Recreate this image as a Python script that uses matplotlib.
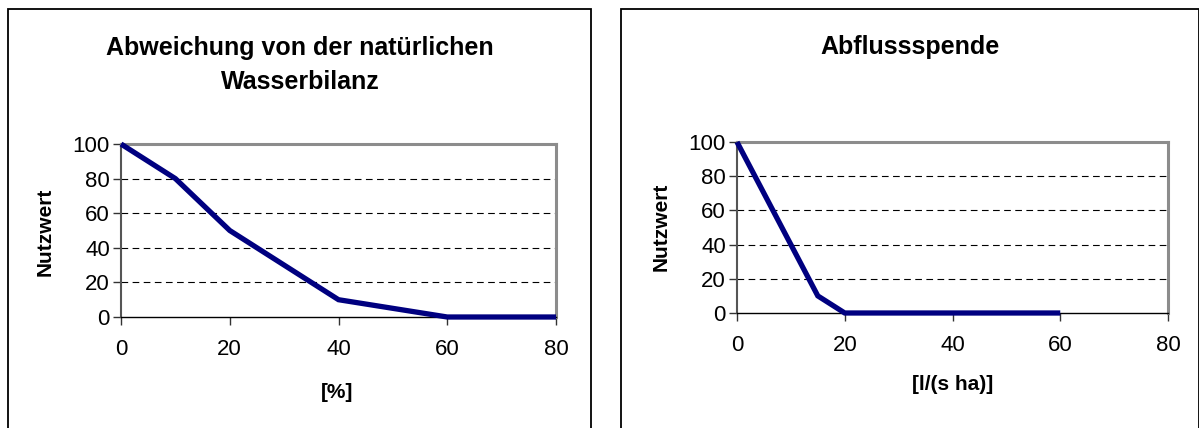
import matplotlib
matplotlib.use("Agg")
import matplotlib.pyplot as plt
from matplotlib.patches import Rectangle

plt.rcParams["font.family"] = ["Liberation Sans", "DejaVu Sans"]

# data
x_bilanz = [0, 10, 20, 40, 60, 80]
y_bilanz = [100, 80, 50, 10, 0, 0]

x_abfluss = [0, 15, 20, 60]
y_abfluss = [100, 10, 0, 0]

titles = ["Abweichung von der natürlichen\nWasserbilanz", "Abflussspende"]
xlabels = ["[%]", "[l/(s ha)]"]
ylabel = "Nutzwert"
xticks = [0, 20, 40, 60, 80]
yticks = [0, 20, 40, 60, 80, 100]

W, H = 1199, 428
fig = plt.figure(figsize=(W / 100, H / 100), dpi=100)


def fx(px):
    return px / W


def fy(py):
    return 1 - py / H


# panel boxes
for x0, x1 in [(8, 591), (621, 1199)]:
    fig.add_artist(Rectangle((fx(x0), fy(440)), fx(x1 - x0), (440 - 9) / H,
                             transform=fig.transFigure, fill=False,
                             edgecolor="black", linewidth=1.3))

# axes rects in pixels: left, right, top, bottom
rects = [(121, 556, 144, 317), (737, 1168, 142, 313)]
series = [(x_bilanz, y_bilanz), (x_abfluss, y_abfluss)]

for i, ((l, r, t, b), (xs, ys)) in enumerate(zip(rects, series)):
    ax = fig.add_axes([fx(l), fy(b), fx(r - l), (b - t) / H])
    ax.plot(xs, ys, color="#000080", linewidth=3.8, clip_on=False,
            solid_joinstyle="miter", solid_capstyle="butt", zorder=3)
    ax.set_xlim(0, 80)
    ax.set_ylim(0, 100)
    ax.set_xticks(xticks)
    ax.set_yticks(yticks)
    for yv in yticks[1:-1]:
        ax.axhline(yv, color="black", linewidth=0.8, dashes=(6, 4), zorder=1)
    ax.spines["top"].set_color("#8c8c8c")
    ax.spines["right"].set_color("#8c8c8c")
    ax.spines["top"].set_linewidth(2.2)
    ax.spines["right"].set_linewidth(2.2)
    ax.spines["left"].set_color("#555555")
    ax.spines["left"].set_linewidth(1.5)
    ax.spines["bottom"].set_color("black")
    ax.spines["bottom"].set_linewidth(1.0)
    ax.tick_params(axis="both", direction="out", length=6, width=1,
                   color="#333333", labelsize=16)
    ax.tick_params(axis="x", pad=10)
    ax.tick_params(axis="y", pad=2)

# titles and labels
fig.text(fx(300), fy(65), titles[0], ha="center", va="center",
         fontsize=18, fontweight="bold", linespacing=1.55)
fig.text(fx(910), fy(47), titles[1], ha="center", va="center",
         fontsize=18, fontweight="bold")

fig.text(fx(337), fy(393), xlabels[0], ha="center", va="center",
         fontsize=15, fontweight="bold")
fig.text(fx(953), fy(384), xlabels[1], ha="center", va="center",
         fontsize=15, fontweight="bold")

fig.text(fx(45), fy(232), ylabel, ha="center", va="center", rotation=90,
         fontsize=15, fontweight="bold")
fig.text(fx(661), fy(227), ylabel, ha="center", va="center", rotation=90,
         fontsize=15, fontweight="bold")

fig.savefig("out.png", dpi=100)
